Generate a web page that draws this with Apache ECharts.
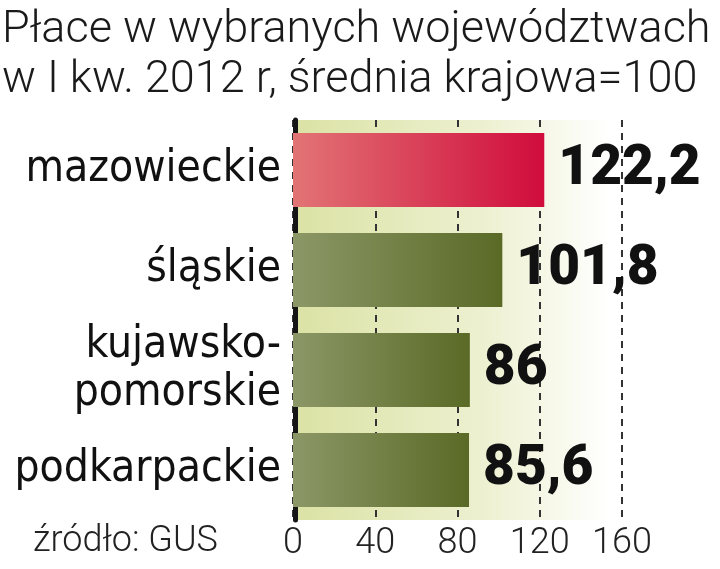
<!DOCTYPE html>
<html>
<head>
<meta charset="utf-8">
<script src="https://cdn.jsdelivr.net/npm/echarts@6/dist/echarts.min.js"></script>
<style>html,body{margin:0;padding:0;background:#fff;}#c{width:720px;height:569px;}</style>
</head>
<body>
<div id="c"></div>
<script>
var titleText = 'Płace w wybranych województwach\nw I kw. 2012 r, średnia krajowa=100';
var sourceText = 'źródło: GUS';
var categories = ['mazowieckie', 'śląskie', 'kujawsko-\npomorskie', 'podkarpackie'];
var values = [122.2, 101.8, 86, 85.6];
var tickValues = [0, 40, 80, 120, 160];

var redGrad = new echarts.graphic.LinearGradient(0, 0, 1, 0, [
  {offset: 0, color: '#e27475'}, {offset: 1, color: '#d00c3c'}]);
var oliveGrad = new echarts.graphic.LinearGradient(0, 0, 1, 0, [
  {offset: 0, color: '#8c9767'}, {offset: 1, color: '#5a6a26'}]);

var chart = echarts.init(document.getElementById('c'), null, {renderer: 'canvas'});
chart.setOption({
  animation: false,
  backgroundColor: '#ffffff',
  title: {
    text: titleText,
    left: 2, top: 6, padding: 0,
    textStyle: {fontFamily: 'Roboto', fontWeight: 300, fontSize: 45, lineHeight: 50, color: '#1a1a1a'}
  },
  graphic: [{
    type: 'text', left: 33, top: 524,
    style: {text: sourceText, font: '300 36px Roboto', fill: '#222'}
  }],
  grid: {
    left: 293, right: 98, top: 120, bottom: 49,
    show: true, borderWidth: 0,
    backgroundColor: new echarts.graphic.LinearGradient(0, 0, 1, 0, [
      {offset: 0, color: '#dbe2a4'}, {offset: 0.6, color: '#eef1d2'}, {offset: 0.96, color: '#ffffff'}])
  },
  xAxis: {
    type: 'value', min: tickValues[0], max: tickValues[tickValues.length - 1], interval: 40,
    axisLine: {show: false}, axisTick: {show: false},
    splitLine: {show: true, lineStyle: {color: '#333', width: 2, type: [7, 6]}},
    axisLabel: {fontFamily: 'Roboto', fontWeight: 300, fontSize: 36, color: '#222', margin: 6}
  },
  yAxis: {
    type: 'category', data: categories, inverse: true, offset: -2,
    axisLine: {show: true, lineStyle: {color: '#151515', width: 5}},
    axisTick: {show: false},
    axisLabel: {fontFamily: 'DejaVu Sans Condensed', fontSize: 44, lineHeight: 48, color: '#111', margin: 14}
  },
  series: [{
    type: 'bar', barWidth: 74,
    data: values.map(function (v, i) {
      return {value: v, itemStyle: {color: i === 0 ? redGrad : oliveGrad}};
    }),
    label: {
      show: true, position: 'right', distance: 14,
      fontFamily: 'Roboto', fontWeight: 900, fontSize: 55, color: '#111',
      formatter: function (p) { return String(p.value).replace('.', ','); }
    }
  }]
});
</script>
</body>
</html>
